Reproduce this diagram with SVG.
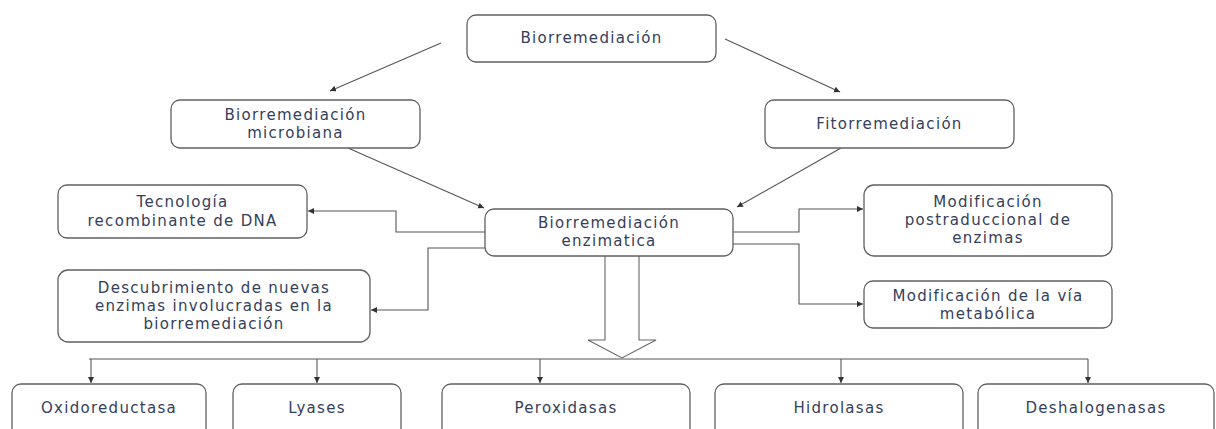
<svg xmlns="http://www.w3.org/2000/svg" width="1216" height="429" viewBox="0 0 1216 429">
<style>
.box{fill:#fff;stroke:#606060;stroke-width:1.3}
.t{font-family:"DejaVu Sans","Open Sans",sans-serif;font-size:15px;letter-spacing:1.3px;fill:#34405a;text-anchor:middle;dominant-baseline:central}
.c{fill:none;stroke:#555;stroke-width:1.1}
</style>
<defs>
<marker id="ah" markerUnits="userSpaceOnUse" markerWidth="7" markerHeight="7" refX="6" refY="3" orient="auto">
<path d="M0,0 L6,3 L0,6 Z" fill="#333"/>
</marker>
</defs>
<rect width="1216" height="429" fill="#fff"/>
<g id="connectors">
<line class="c" x1="441" y1="43" x2="330" y2="91" marker-end="url(#ah)"/>
<line class="c" x1="725" y1="39" x2="840" y2="92" marker-end="url(#ah)"/>
<line class="c" x1="348" y1="148" x2="484" y2="208" marker-end="url(#ah)"/>
<line class="c" x1="841" y1="148" x2="737" y2="207" marker-end="url(#ah)"/>
<polyline class="c" points="485,232 396,232 396,211 308,211" marker-end="url(#ah)"/>
<polyline class="c" points="485,248 428,248 428,310 371,310" marker-end="url(#ah)"/>
<polyline class="c" points="733,232 799,232 799,209 863,209" marker-end="url(#ah)"/>
<polyline class="c" points="733,244 799,244 799,304 863,304" marker-end="url(#ah)"/>
<path d="M605,256 L605,340 L588,340 L622,358 L656,340 L639,340 L639,256" fill="#fff" stroke="#666" stroke-width="1.1"/>
<line class="c" x1="89" y1="359" x2="1088" y2="359"/>
<line class="c" x1="91" y1="359" x2="91" y2="383" marker-end="url(#ah)"/>
<line class="c" x1="317" y1="359" x2="317" y2="383" marker-end="url(#ah)"/>
<line class="c" x1="540" y1="359" x2="540" y2="383" marker-end="url(#ah)"/>
<line class="c" x1="841" y1="359" x2="841" y2="383" marker-end="url(#ah)"/>
<line class="c" x1="1088" y1="359" x2="1088" y2="383" marker-end="url(#ah)"/>
</g>
<g id="n-biorremediacion">
<rect class="box" x="467" y="15" width="249" height="47" rx="9"/>
<text class="t" x="591.5" y="38">Biorremediación</text>
</g>
<g id="n-microbiana">
<rect class="box" x="171" y="100" width="249" height="48" rx="9"/>
<text class="t" x="295.5" y="115">Biorremediación</text>
<text class="t" x="295.5" y="133">microbiana</text>
</g>
<g id="n-fito">
<rect class="box" x="765" y="100" width="249" height="48" rx="9"/>
<text class="t" x="889.5" y="124">Fitorremediación</text>
</g>
<g id="n-enzimatica">
<rect class="box" x="485" y="209" width="248" height="47" rx="9"/>
<text class="t" x="609" y="223">Biorremediación</text>
<text class="t" x="609" y="241">enzimatica</text>
</g>
<g id="n-tecnologia">
<rect class="box" x="58" y="185" width="249" height="53" rx="9"/>
<text class="t" x="182.5" y="202">Tecnología</text>
<text class="t" x="182.5" y="221">recombinante de DNA</text>
</g>
<g id="n-descubrimiento">
<rect class="box" x="58" y="270" width="312" height="72" rx="10"/>
<text class="t" x="214" y="288">Descubrimiento de nuevas</text>
<text class="t" x="214" y="306">enzimas involucradas en la</text>
<text class="t" x="214" y="324">biorremediación</text>
</g>
<g id="n-postraduccional">
<rect class="box" x="864" y="185" width="248" height="71" rx="10"/>
<text class="t" x="988" y="202">Modificación</text>
<text class="t" x="988" y="220">postraduccional de</text>
<text class="t" x="988" y="238">enzimas</text>
</g>
<g id="n-via">
<rect class="box" x="864" y="281" width="248" height="47" rx="9"/>
<text class="t" x="988" y="296">Modificación de la vía</text>
<text class="t" x="988" y="314">metabólica</text>
</g>
<g id="n-oxidoreductasa">
<rect class="box" x="12" y="384" width="194" height="60" rx="9"/>
<text class="t" x="109" y="408">Oxidoreductasa</text>
</g>
<g id="n-lyases">
<rect class="box" x="233" y="384" width="168" height="60" rx="9"/>
<text class="t" x="317" y="408">Lyases</text>
</g>
<g id="n-peroxidasas">
<rect class="box" x="442" y="384" width="248" height="60" rx="9"/>
<text class="t" x="566" y="408">Peroxidasas</text>
</g>
<g id="n-hidrolasas">
<rect class="box" x="715" y="384" width="248" height="60" rx="9"/>
<text class="t" x="839" y="408">Hidrolasas</text>
</g>
<g id="n-deshalogenasas">
<rect class="box" x="978" y="384" width="236" height="60" rx="9"/>
<text class="t" x="1096" y="408">Deshalogenasas</text>
</g>
</svg>
